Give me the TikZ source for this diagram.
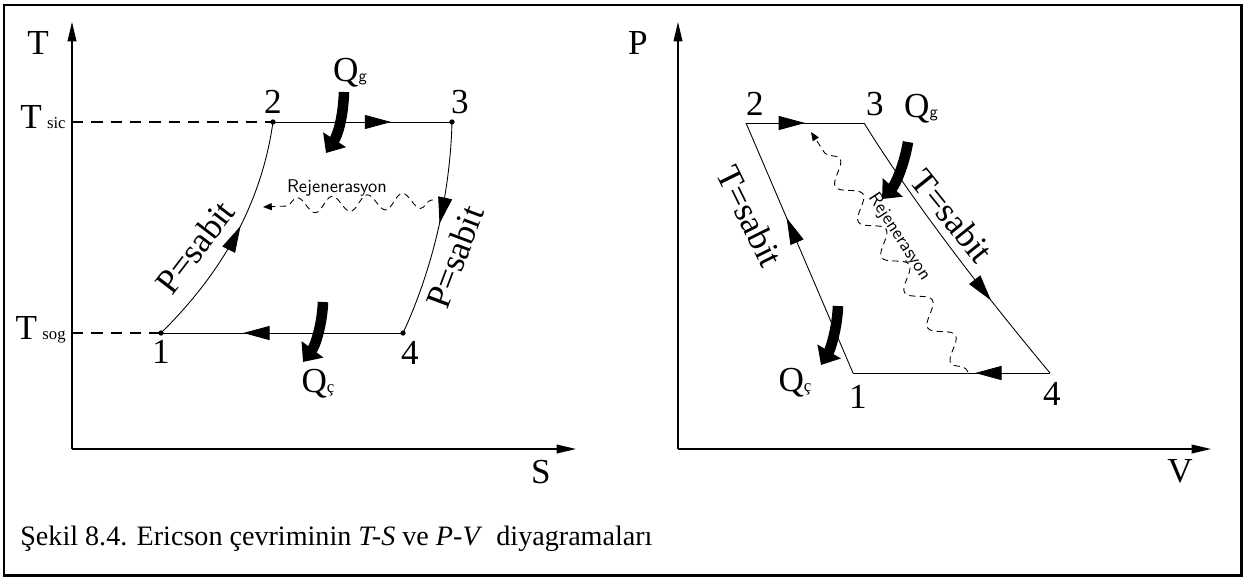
\documentclass[tikz,border=0pt]{standalone}
\usepackage{fontspec}
\setmainfont{Liberation Serif}
\usetikzlibrary{arrows.meta,decorations.markings,decorations.pathmorphing}
\newcommand\lblfont{\fontsize{20}{22}\selectfont}
\newcommand\subfnt{\fontsize{9.5}{10}\selectfont}
\newcommand\capfnt{\fontsize{16}{18}\selectfont}
\newcommand\regfnt{\sffamily\fontsize{10.5}{12}\selectfont}

\tikzset{
  axis/.style={line width=0.7pt, -{Triangle[length=11pt,width=5pt]}},
  proc/.style={line width=0.5pt},
  level/.style={line width=0.6pt, dash pattern=on 6.5pt off 4.5pt},
  midarrow/.style={postaction={decorate}, decoration={markings,
      mark=at position #1 with {\arrow{Triangle[length=15pt,width=8pt]}}}},
  heat/.style={line width=6pt, -{Triangle[length=9pt,width=15pt]}},
  regen/.style={line width=0.5pt, dash pattern=on 3.5pt off 2.5pt,
      decorate, -{Triangle[length=5pt,width=4pt]}},
  lbl/.style={font=\lblfont, inner sep=0pt},
  dot/.style={circle, fill, inner sep=0pt, minimum size=3pt},
}

\begin{document}
\begin{tikzpicture}[x=0.02cm, y=-0.02cm]
  \useasboundingbox (0,0) rectangle (1246,579);
  \draw[line width=1.7pt] (4,5) rectangle (1241,575);

  % T-S diagram
  \coordinate (TO) at (72,449);
  \coordinate (Ttop) at (72,22);
  \coordinate (Send) at (576,449);
  \draw[axis] (TO) -- (Ttop);
  \draw[axis] (TO) -- (Send);
  \node[lbl] (Tlab) at (38,43) {T};
  \node[lbl] (Slab) at (541,472) {S};
  \node[lbl, anchor=base east] (Tsiclab) at (66,128) {T\kern3pt{\subfnt sic}};
  \node[lbl, anchor=base east] (Tsoglab) at (66,339) {T\kern3pt{\subfnt sog}};

  \coordinate (Tsic) at (72,122);
  \coordinate (Tsog) at (72,333);
  \node[dot] (L1) at (161,333) {};
  \node[dot] (L2) at (273,122) {};
  \node[dot] (L3) at (452,122) {};
  \node[dot] (L4) at (403,333) {};
  \draw[level] (Tsic) -- (L2.center);
  \draw[level] (Tsog) -- (L1.center);
  \draw[proc, midarrow=0.66] (L2.center) -- (L3.center);
  \draw[proc, midarrow=0.66] (L4.center) -- (L1.center);
  \draw[proc, midarrow=0.55] (L1.center) .. controls (225,270) and (262,200) .. (L2.center);
  \draw[proc, midarrow=0.47] (L3.center) .. controls (450,200) and (430,275) .. (L4.center);

  \node[lbl] at (273,102) {2};
  \node[lbl] at (460,102) {3};
  \node[lbl] at (161,352) {1};
  \node[lbl] at (410,353) {4};
  \node[lbl, rotate=52.6] at (195,247) {P=sabit};
  \node[lbl, rotate=69.4] at (455,257) {P=sabit};

  \coordinate (LQgA) at (344,92);
  \coordinate (LQgB) at (326,153);
  \draw[heat] (LQgA) .. controls (343,120) and (337,136) .. (LQgB);
  \node[lbl] (LQg) at (350,73) {Q{\subfnt\sffamily g}};
  \coordinate (LQcA) at (323,302);
  \coordinate (LQcB) at (303,362);
  \draw[heat] (LQcA) .. controls (322,326) and (315,346) .. (LQcB);
  \node[lbl] (LQc) at (318,384) {Q{\subfnt ç}};

  \coordinate (LRa) at (433,200);
  \coordinate (LRb) at (263,207);
  \draw[regen, decoration={snake, segment length=20pt, amplitude=4.5pt,
      pre length=1pt, post length=4pt}] (LRa) -- (LRb);
  \node[font=\regfnt] at (337,188) {Rejenerasyon};

  % P-V diagram
  \coordinate (PO) at (678,449);
  \coordinate (Ptop) at (678,22);
  \coordinate (Vend) at (1211,449);
  \draw[axis] (PO) -- (Ptop);
  \draw[axis] (PO) -- (Vend);
  \node[lbl] (Plab) at (638,43) {P};
  \node[lbl] (Vlab) at (1180,471) {V};

  \coordinate (R1) at (853,373);
  \coordinate (R2) at (746,123);
  \coordinate (R3) at (864,123);
  \coordinate (R4) at (1050,373);
  \draw[proc, midarrow=0.5] (R2) -- (R3);
  \draw[proc, midarrow=0.7] (R3) .. controls (915,205) and (985,295) .. (R4);
  \draw[proc, midarrow=0.38] (R4) -- (R1);
  \draw[proc, midarrow=0.62] (R1) -- (R2);

  \node[lbl] at (755,104) {2};
  \node[lbl] at (875,104) {3};
  \node[lbl] at (858,397) {1};
  \node[lbl] at (1052,394) {4};
  \node[lbl, rotate=-63.8] at (750,216) {T=sabit};
  \node[lbl, rotate=-51.3] at (952,216) {T=sabit};

  \coordinate (RQgA) at (908,142);
  \coordinate (RQgB) at (882,199);
  \draw[heat] (RQgA) .. controls (904,166) and (895,185) .. (RQgB);
  \node[lbl] (RQg) at (921,109) {Q{\subfnt\sffamily g}};
  \coordinate (RQcA) at (838,306);
  \coordinate (RQcB) at (821,365);
  \draw[heat] (RQcA) .. controls (837,330) and (830,350) .. (RQcB);
  \node[lbl] (RQc) at (795,383) {Q{\subfnt ç}};

  \coordinate (RRa) at (968,372);
  \coordinate (RRb) at (811,132);
  \draw[regen, decoration={snake, segment length=24pt, amplitude=5.5pt,
      pre length=2pt, post length=4pt}] (RRa) -- (RRb);
  \node[font=\regfnt, rotate=-57] at (899,237) {Rejenerasyon};

  % caption
  \node[font=\capfnt, anchor=base west, inner sep=0pt] (cap) at (20,545)
    {Şekil 8.4. Ericson çevriminin \textit{T-S} ve \textit{P-V}\ \ diyagramaları};
\end{tikzpicture}
\end{document}
